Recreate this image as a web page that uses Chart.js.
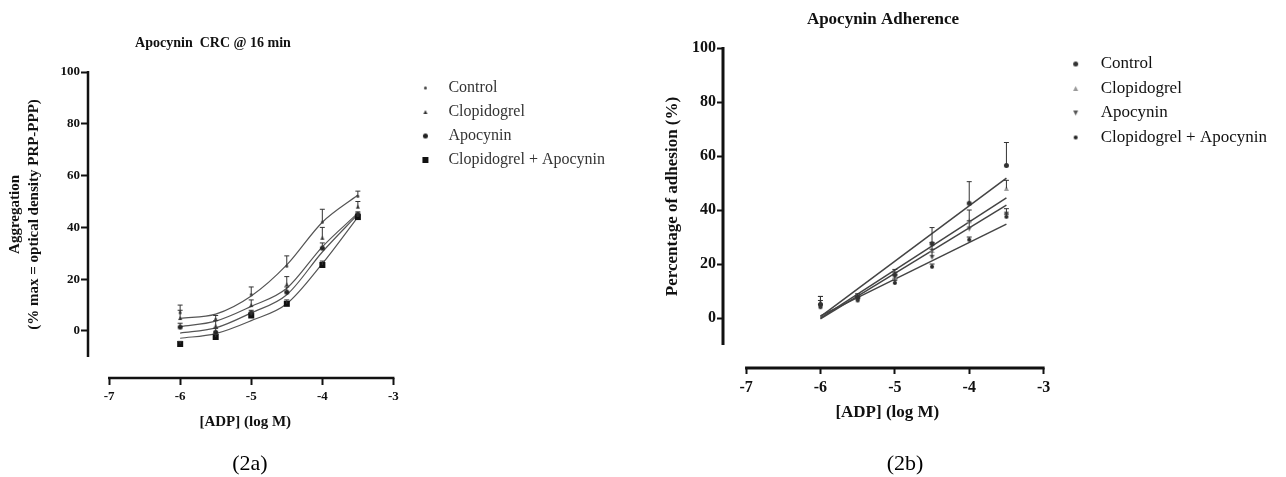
<!DOCTYPE html>
<html>
<head>
<meta charset="utf-8">
<script src="https://cdn.jsdelivr.net/npm/chart.js@4.4.1/dist/chart.umd.min.js"></script>
<style>
  body { margin: 0; background: #fff; width: 1286px; height: 477px; position: relative; overflow: hidden; }
  canvas { position: absolute; top: 0; }
  #aggChart { left: 0; }
  #adhChart { left: 643px; }
  .cap { position: absolute; top: 450px; width: 100px; text-align: center; font-family: "Liberation Serif", serif; font-size: 22px; color: #000; }
</style>
</head>
<body>
<canvas id="aggChart" width="643" height="477"></canvas>
<canvas id="adhChart" width="643" height="477"></canvas>
<div class="cap" style="left:200px">(2a)</div>
<div class="cap" style="left:855px">(2b)</div>
<script>
const seriesNames = ['Control', 'Clopidogrel', 'Apocynin', 'Clopidogrel + Apocynin'];
const doses = [-6, -5.5, -5, -4.5, -4, -3.5];
const xTicks = [-7, -6, -5, -4, -3];
const yTicks = [0, 20, 40, 60, 80, 100];

// (2a) aggregation, mean and upper error
const aggControl = [7, 4.5, 14, 25, 42, 52];
const aggClopidogrel = [5, 2, 10, 18, 36, 48];
const aggApocynin = [1.5, -0.5, 7, 15, 32, 45];
const aggCombined = [-5, -2.3, 6, 10.5, 25.5, 44];
const aggControlErr = [3, 1.5, 3, 4, 5, 2];
const aggClopidogrelErr = [3, 2, 2, 3, 4, 2];
const aggApocyninErr = [1.5, 1.5, 1, 2, 2, 1];
const aggCombinedErr = [1, 1, 1, 1.5, 1.5, 1.5];
// fitted curves read at the dose points
const aggFitControl = [4.9, 6.5, 13.5, 25.5, 42, 52.5];
const aggFitClopidogrel = [1.7, 3.8, 9.5, 16.5, 32.5, 45.5];
const aggFitApocynin = [-0.8, 1.2, 7, 14, 30.5, 45];
const aggFitCombined = [-2.8, -1, 4, 10.5, 26, 44];

// (2b) adhesion
const adhControl = [5, 7.5, 16, 27.5, 42.5, 56.5];
const adhClopidogrel = [6, 8, 15, 25, 36, 48];
const adhApocynin = [4.5, 7, 14, 22.5, 33, 38.5];
const adhCombined = [4, 6.5, 13, 19, 29, 37.5];
const adhControlErr = [3, 1, 2, 6, 8, 8.5];
const adhClopidogrelErr = [2, 1, 2, 3, 4, 3];
const adhApocyninErr = [2, 1, 2, 3, 3, 2];
const adhCombinedErr = [1, 1, 1, 1, 1, 1];
// linear fits, ends at -6 and -3.5
const adhFitX = [-6, -3.5];
const adhFitControl = [0.5, 51.8];
const adhFitClopidogrel = [0, 44.5];
const adhFitApocynin = [-0.3, 41.8];
const adhFitCombined = [0.8, 34.8];

function marker(shape, size, color) {
  const c = document.createElement('canvas');
  c.width = c.height = size + 2;
  const g = c.getContext('2d'), m = (size + 2) / 2, r = size / 2;
  g.fillStyle = color;
  g.beginPath();
  if (shape === 'square') g.rect(m - r, m - r, size, size);
  else if (shape === 'tri') { g.moveTo(m, m - r); g.lineTo(m + r, m + r); g.lineTo(m - r, m + r); }
  else if (shape === 'itri') { g.moveTo(m - r, m - r); g.lineTo(m + r, m - r); g.lineTo(m, m + r); }
  else g.arc(m, m, r, 0, Math.PI * 2);
  g.fill();
  return c;
}

// width the right-hand legend box will take (padding + marker box + gap + text + 10)
function legendSpace(cfg) {
  const g = document.createElement('canvas').getContext('2d');
  g.font = cfg.legendSize + 'px "Liberation Serif"';
  const w = Math.max(...seriesNames.map(t => g.measureText(t).width));
  return Math.ceil(cfg.legendPad + cfg.legendBox + cfg.legendSize / 2 + w + 10);
}

// GraphPad style detached axes + titles
const frame = {
  id: 'frame',
  afterDraw(chart, args, o) {
    const { ctx, chartArea: a, scales: { x, y } } = chart;
    ctx.save();
    ctx.strokeStyle = '#111';
    ctx.lineWidth = o.axisWidth;
    ctx.beginPath();
    ctx.moveTo(a.left, y.getPixelForValue(o.yLine[0]));
    ctx.lineTo(a.left, y.getPixelForValue(o.yLine[1]) - 1);
    ctx.moveTo(x.getPixelForValue(o.xLine[0]) - 1, a.bottom);
    ctx.lineTo(x.getPixelForValue(o.xLine[1]) + 1, a.bottom);
    ctx.stroke();
    ctx.fillStyle = '#111';
    ctx.textAlign = 'center';
    ctx.textBaseline = 'middle';
    ctx.font = o.titleFont;
    ctx.fillText(o.title, o.titlePos[0], o.titlePos[1]);
    ctx.font = o.yTitleFont;
    const cy = y.getPixelForValue(o.yTitleAt);
    o.yTitle.forEach((t, i) => {
      ctx.save();
      ctx.translate(o.yTitleX[i], cy);
      ctx.rotate(-Math.PI / 2);
      ctx.fillText(t, 0, 0);
      ctx.restore();
    });
    ctx.restore();
  }
};

const errorBars = {
  id: 'errorBars',
  afterDatasetsDraw(chart) {
    const { ctx, scales: { x, y } } = chart;
    ctx.save();
    ctx.strokeStyle = '#333';
    ctx.lineWidth = 1;
    chart.data.datasets.forEach(ds => {
      if (!ds.errors) return;
      ds.data.forEach((p, j) => {
        const px = x.getPixelForValue(p.x);
        const py = y.getPixelForValue(p.y);
        const pt = y.getPixelForValue(p.y + ds.errors[j]);
        ctx.beginPath();
        ctx.moveTo(px, py);
        ctx.lineTo(px, pt);
        ctx.moveTo(px - 2.5, pt);
        ctx.lineTo(px + 2.5, pt);
        ctx.stroke();
      });
    });
    ctx.restore();
  }
};

function makeChart(id, cfg) {
  const points = cfg.values.map((vals, k) => ({
    type: 'scatter',
    label: seriesNames[k],
    data: doses.map((d, j) => ({ x: d, y: vals[j] })),
    errors: cfg.errors[k],
    pointStyle: cfg.markers[k],
    pointRadius: 3
  }));
  const fits = cfg.fits.map(vals => ({
    type: 'line',
    label: 'fit',
    data: cfg.fitX.map((d, j) => ({ x: d, y: vals[j] })),
    borderColor: cfg.lineColor,
    borderWidth: cfg.lineWidth,
    pointRadius: 0,
    cubicInterpolationMode: 'monotone',
    fill: false
  }));
  const tickFont = { family: 'Liberation Serif', size: cfg.tickSize, weight: 'bold' };
  const legendW = legendSpace(cfg);
  const padding = Object.assign({}, cfg.padding, { right: 643 - cfg.areaRight - legendW });
  return new Chart(document.getElementById(id), {
    type: 'scatter',
    data: { datasets: points.concat(fits) },
    options: {
      responsive: false,
      animation: false,
      events: [],
      layout: { padding },
      scales: {
        x: {
          type: 'linear',
          min: cfg.xRange[0],
          max: cfg.xRange[1],
          afterBuildTicks: s => { s.ticks = xTicks.map(v => ({ value: v })); },
          afterFit: s => { s.height = cfg.xHeight; },
          grid: { drawOnChartArea: false, tickLength: cfg.tickLen, tickWidth: 2, tickColor: '#111' },
          border: { display: false },
          ticks: { font: tickFont, color: '#111', padding: cfg.xTickPad, maxRotation: 0, autoSkip: false },
          title: {
            display: true,
            text: '[ADP] (log M)',
            color: '#111',
            font: { family: 'Liberation Serif', size: cfg.axisSize, weight: 'bold' },
            padding: { top: 0, bottom: 2 }
          }
        },
        y: {
          type: 'linear',
          min: cfg.yRange[0],
          max: cfg.yRange[1],
          afterBuildTicks: s => { s.ticks = yTicks.map(v => ({ value: v })); },
          afterFit: s => { s.width = cfg.yWidth; },
          grid: { drawOnChartArea: false, tickLength: cfg.tickLen, tickWidth: 2, tickColor: '#111' },
          border: { display: false },
          ticks: { font: tickFont, color: '#111', padding: 1 }
        }
      },
      plugins: {
        tooltip: { enabled: false },
        legend: {
          position: 'right',
          align: 'start',
          maxWidth: legendW,
          labels: {
            usePointStyle: true,
            pointStyleWidth: cfg.legendBox,
            padding: cfg.legendPad,
            color: cfg.legendColor,
            font: { family: 'Liberation Serif', size: cfg.legendSize },
            filter: item => item.datasetIndex < 4
          }
        },
        frame: {
          axisWidth: cfg.axisWidth,
          yLine: [-10, 100],
          xLine: [-7, -3],
          title: cfg.title,
          titlePos: cfg.titlePos,
          titleFont: 'bold ' + cfg.titleSize + 'px "Liberation Serif"',
          yTitle: cfg.yTitle,
          yTitleX: cfg.yTitleX,
          yTitleAt: 45,
          yTitleFont: 'bold ' + cfg.axisSize + 'px "Liberation Serif"'
        }
      }
    },
    plugins: [frame, errorBars]
  });
}

makeChart('aggChart', {
  values: [aggControl, aggClopidogrel, aggApocynin, aggCombined],
  errors: [aggControlErr, aggClopidogrelErr, aggApocyninErr, aggCombinedErr],
  fits: [aggFitControl, aggFitClopidogrel, aggFitApocynin, aggFitCombined],
  fitX: doses,
  markers: [marker('dot', 3, '#444'), marker('tri', 4, '#333'), marker('dot', 5, '#222'), marker('square', 6, '#111')],
  lineColor: '#555', lineWidth: 1.2,
  padding: { left: 0, top: 72, bottom: 44 }, areaRight: 402,
  xRange: [-7.296, -2.873], yRange: [-18.15, 100],
  xHeight: 55, yWidth: 88, tickLen: 7, xTickPad: 4,
  tickSize: 13, axisSize: 15, titleSize: 14, axisWidth: 2.5,
  legendBox: 30, legendPad: 8, legendSize: 16, legendColor: '#333',
  title: 'Apocynin  CRC @ 16 min', titlePos: [213, 43],
  yTitle: ['Aggregation', '(% max = optical density PRP-PPP)'], yTitleX: [15, 34]
});

makeChart('adhChart', {
  values: [adhControl, adhClopidogrel, adhApocynin, adhCombined],
  errors: [adhControlErr, adhClopidogrelErr, adhApocyninErr, adhCombinedErr],
  fits: [adhFitControl, adhFitClopidogrel, adhFitApocynin, adhFitCombined],
  fitX: adhFitX,
  markers: [marker('dot', 5, '#333'), marker('tri', 5, '#999'), marker('itri', 5, '#555'), marker('dot', 4, '#222')],
  lineColor: '#444', lineWidth: 1.5,
  padding: { left: 0, top: 48, bottom: 52 }, areaRight: 408,
  xRange: [-7.31, -2.892], yRange: [-18.5, 100],
  xHeight: 57, yWidth: 80, tickLen: 6, xTickPad: 4,
  tickSize: 16, axisSize: 17, titleSize: 17, axisWidth: 3,
  legendBox: 33, legendPad: 7.5, legendSize: 17, legendColor: '#111',
  title: 'Apocynin Adherence', titlePos: [240, 20],
  yTitle: ['Percentage of adhesion (%)'], yTitleX: [30]
});
</script>
</body>
</html>
